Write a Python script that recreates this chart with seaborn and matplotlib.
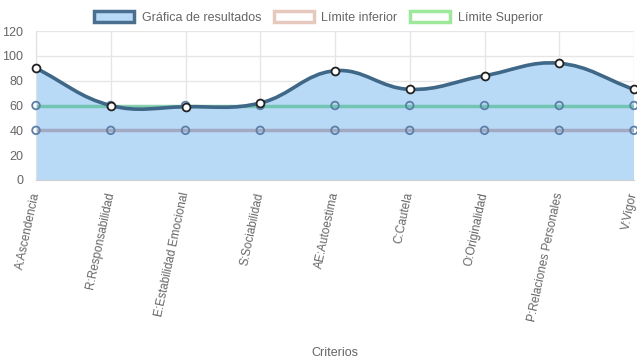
import numpy as np
import pandas as pd
import seaborn as sns
import matplotlib.pyplot as plt
from matplotlib.path import Path
from matplotlib.patches import PathPatch, Patch

# Datos
criterios = ['A:Ascendencia', 'R:Responsabilidad', 'E:Estabilidad Emocional',
             'S:Sociabilidad', 'AE:Autoestima', 'C:Cautela', 'O:Originalidad',
             'P:Relaciones Personales', 'V:Vigor']
resultados = [90, 60, 59, 62, 88, 73, 84, 94, 73]
limite_inferior = [40, 40, 40, 40, 40, 40, 40, 40, 40]
limite_superior = [60, 60, 60, 60, 60, 60, 60, 60, 60]

df = pd.DataFrame({'pos': np.arange(len(criterios)), 'Criterio': criterios,
                   'Resultado': resultados, 'Inferior': limite_inferior,
                   'Superior': limite_superior})

sns.set_style('white')
plt.rcParams['font.family'] = ['Liberation Sans', 'DejaVu Sans']

fig = plt.figure(figsize=(6.37, 3.59), dpi=100)
ax = fig.add_axes([36 / 637, 1 - 180 / 359, 598 / 637, 149 / 359])
ax.set_xlim(0, len(criterios) - 1)
ax.set_ylim(0, 120)


def spline_path(xs, ys, tension=0.4, close_to=None):
    # curva tipo Chart.js: bezier con tensión, calculada en píxeles
    xs = np.asarray(xs, dtype=float)
    ys = np.asarray(ys, dtype=float)
    pts = ax.transData.transform(np.column_stack([xs, ys]))
    n = len(pts)
    cprev = pts.copy()
    cnext = pts.copy()
    for i in range(n):
        p0 = pts[max(i - 1, 0)]
        p1 = pts[i]
        p2 = pts[min(i + 1, n - 1)]
        d01 = np.hypot(*(p1 - p0))
        d12 = np.hypot(*(p2 - p1))
        tot = d01 + d12
        s01 = d01 / tot if tot else 0
        s12 = d12 / tot if tot else 0
        cprev[i] = p1 - tension * s01 * (p2 - p0)
        cnext[i] = p1 + tension * s12 * (p2 - p0)
    inv = ax.transData.inverted()
    pts, cprev, cnext = inv.transform(pts), inv.transform(cprev), inv.transform(cnext)
    verts = [pts[0]]
    codes = [Path.MOVETO]
    for i in range(1, n):
        verts += [cnext[i - 1], cprev[i], pts[i]]
        codes += [Path.CURVE4] * 3
    if close_to is not None:
        verts += [(xs[-1], close_to), (xs[0], close_to), pts[0]]
        codes += [Path.LINETO, Path.LINETO, Path.CLOSEPOLY]
    return Path(verts, codes)


fill_color = '#B9DAF6'
line_color = '#3F6787'

ax.add_patch(PathPatch(spline_path(df['pos'], df['Resultado'], close_to=0),
                       facecolor=fill_color, edgecolor='none', zorder=1))

sns.lineplot(data=df, x='pos', y='Inferior', color='#A3A9C2', lw=2.5,
             ax=ax, zorder=2)
sns.lineplot(data=df, x='pos', y='Superior', color=(0.26, 0.72, 0.52, 0.6),
             lw=2.5, ax=ax, zorder=2)

for col in ['Inferior', 'Superior']:
    sns.scatterplot(data=df, x='pos', y=col, s=30, facecolor='none',
                    edgecolor='#5B7FA6', linewidth=1.3, ax=ax, zorder=3,
                    clip_on=False)

ax.add_patch(PathPatch(spline_path(df['pos'], df['Resultado']),
                       facecolor='none', edgecolor=line_color, lw=2.6,
                       zorder=4))
sns.scatterplot(data=df, x='pos', y='Resultado', s=32, color='white',
                edgecolor='#222222', linewidth=1.3, ax=ax, zorder=5,
                clip_on=False)

# ejes y rejilla
ax.set_xticks(df['pos'])
ax.set_xticklabels(criterios, rotation=78, ha='right', va='center',
                   rotation_mode='anchor', fontsize=8.5)
ax.set_yticks(range(0, 121, 20))
ax.grid(True, color='#E6E6E6', lw=1)
ax.set_axisbelow(True)
for s in ['top', 'right']:
    ax.spines[s].set_visible(False)
ax.spines['left'].set_color('#E0E0E0')
ax.spines['bottom'].set_color('#CFCFCF')
ax.tick_params(axis='both', length=6, color='#E0E0E0', labelcolor='#666666',
               pad=3)
ax.tick_params(axis='y', labelsize=9)
ax.set_ylabel('')
ax.set_xlabel('Criterios', color='#666666', fontsize=9)
ax.xaxis.set_label_coords(0.5, -1.12)

handles = [Patch(facecolor=fill_color, edgecolor='#4A6F8F', lw=2.5),
           Patch(facecolor='white', edgecolor='#E6C8BE', lw=2.5),
           Patch(facecolor='white', edgecolor='#9DE89A', lw=2.5)]
fig.legend(handles, ['Gráfica de resultados', 'Límite inferior', 'Límite Superior'],
           loc='upper center', bbox_to_anchor=(0.5, 1.0), ncol=3, frameon=False,
           fontsize=9, labelcolor='#666666', handlelength=3.2, handleheight=0.9,
           columnspacing=1.0, handletextpad=0.6)

fig.savefig('out.png', dpi=100)
